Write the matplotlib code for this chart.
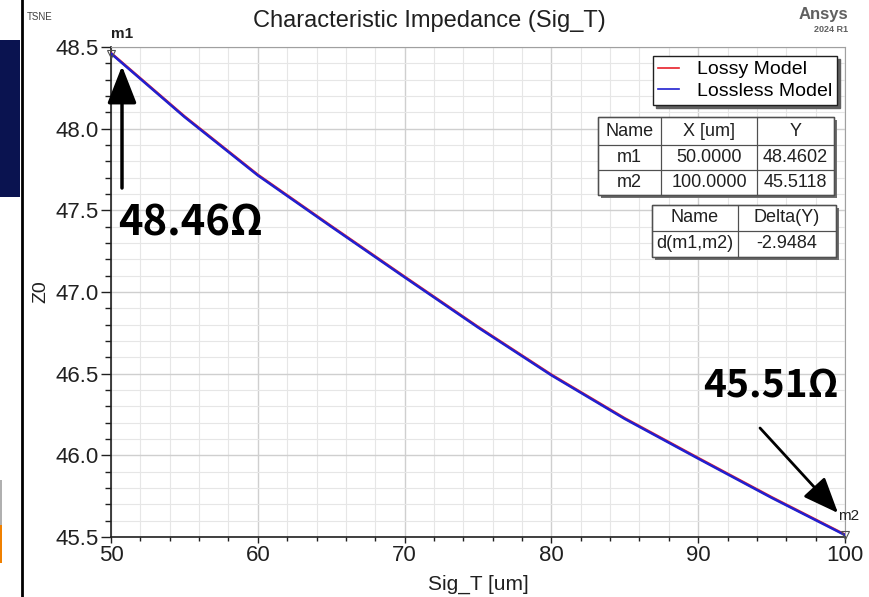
import matplotlib
matplotlib.use("Agg")
import matplotlib.pyplot as plt
from matplotlib.patches import Rectangle
from matplotlib.ticker import MultipleLocator, FormatStrFormatter

plt.rcParams['font.family'] = ['Liberation Sans', 'DejaVu Sans']

# ---- data ----
sig_t = [50, 55, 60, 65, 70, 75, 80, 85, 90, 95, 100]
lossy = [48.4632, 48.076, 47.718, 47.404, 47.094, 46.787, 46.494, 46.227, 45.984, 45.744, 45.5148]
lossless = [48.4602, 48.072, 47.714, 47.400, 47.090, 46.783, 46.490, 46.223, 45.980, 45.740, 45.5118]
series_names = ["Lossy Model", "Lossless Model"]
series_colors = ["#e8202a", "#2020d0"]
markers = ["m1", "m2"]
marker_x = [50.0, 100.0]
marker_y = [48.4602, 45.5118]
delta_name = "d(m1,m2)"
delta_y = -2.9484
annot_text = ["48.46Ω", "45.51Ω"]

W, H = 869, 597
fig = plt.figure(figsize=(W / 100, H / 100), dpi=100)

def fx(px):
    return px / W

def fy(py):
    return 1 - py / H

# slide background pieces
fig.patches.append(Rectangle((0, fy(197)), fx(20), fy(40) - fy(197), transform=fig.transFigure,
                             facecolor="#0a1350", edgecolor="none", zorder=0))
fig.patches.append(Rectangle((0, fy(525)), fx(2), fy(480) - fy(525), transform=fig.transFigure,
                             facecolor="#b0b0b0", edgecolor="none", zorder=0))
fig.patches.append(Rectangle((0, fy(563)), fx(2), fy(525) - fy(563), transform=fig.transFigure,
                             facecolor="#f08000", edgecolor="none", zorder=0))
fig.lines.append(plt.Line2D([fx(21.5), fx(21.5)], [0, 1], transform=fig.transFigure,
                            color="black", lw=2))

ax = fig.add_axes([fx(111), fy(537), fx(845) - fx(111), fy(47) - fy(537)])
ax.set_xlim(50, 100)
ax.set_ylim(45.5, 48.5)
ax.xaxis.set_major_locator(MultipleLocator(10))
ax.xaxis.set_minor_locator(MultipleLocator(2))
ax.yaxis.set_major_locator(MultipleLocator(0.5))
ax.yaxis.set_minor_locator(MultipleLocator(0.1))
ax.yaxis.set_major_formatter(FormatStrFormatter('%.1f'))
ax.grid(which='major', color="#cfcfcf", lw=1.0)
ax.grid(which='minor', color="#e6e6e6", lw=0.8)
ax.set_axisbelow(True)
ax.tick_params(which='major', direction='out', length=7, width=1, labelsize=16, colors="#202020", pad=2)
ax.tick_params(which='minor', direction='out', length=4, width=1, colors="#202020")
ax.tick_params(axis='x', which='major', length=4)
ax.tick_params(axis='x', which='minor', length=3)
for s in ['top', 'right']:
    ax.spines[s].set_color("#a0a0a0")
for s in ['left', 'bottom']:
    ax.spines[s].set_color("#202020")
    ax.spines[s].set_linewidth(1.2)

l1, = ax.plot(sig_t, lossy, color=series_colors[0], lw=1.8, zorder=3)
l2, = ax.plot(sig_t, lossless, color=series_colors[1], lw=1.8, zorder=4)
ax.plot(marker_x, marker_y, linestyle='none', marker='v', markersize=6, markerfacecolor='none',
        markeredgecolor="#505050", markeredgewidth=0.8, zorder=5, clip_on=False)

ax.set_xlabel("Sig_T [um]", fontsize=15, color="#202020", labelpad=6)
ax.set_ylabel("Z0", fontsize=14, color="#202020", labelpad=4)

# marker labels
ax.annotate(markers[0], (marker_x[0], marker_y[0]), xytext=(0, 9), textcoords='offset points',
            fontsize=11, fontweight='bold', color="#202020", ha='left', va='bottom',
            annotation_clip=False)
ax.annotate(markers[1], (marker_x[1], marker_y[1]), xytext=(-5, 9), textcoords='offset points',
            fontsize=11, color="#202020", ha='left', va='bottom', annotation_clip=False)

# title etc
fig.text(fx(429), fy(21), "Characteristic Impedance (Sig_T)", fontsize=17, ha='center', va='center',
         color="#202020")
fig.text(fx(27), fy(17), "TSNE", fontsize=7, ha='left', va='center', color="#404040")
fig.text(fx(848), fy(15), "Ansys", fontsize=12, fontweight='bold', ha='right', va='center', color="#606060")
fig.text(fx(848), fy(29), "2024 R1", fontsize=6.5, fontweight='bold', ha='right', va='center', color="#606060")

# legend
leg = ax.legend([l1, l2], series_names, loc='upper right',
                bbox_to_anchor=((837 - 111) / 734, (537 - 56) / 490),
                fontsize=14, frameon=True, fancybox=False, shadow={'color': '#606060', 'alpha': 1},
                handlelength=1.1, handletextpad=0.9, borderpad=0.25, labelspacing=0.2,
                borderaxespad=0)
leg.get_frame().set_edgecolor("#202020")
leg.get_frame().set_linewidth(1.0)
for h in leg.get_lines():
    h.set_linewidth(1.2)

# tables (drawn in figure pixel coords)
def draw_table(x0, y0, col_w, row_h, rows):
    total_w = sum(col_w)
    total_h = sum(row_h)
    fig.patches.append(Rectangle((fx(x0 + 3), fy(y0 + total_h + 3)), fx(total_w), fy(0) - fy(total_h),
                                 transform=fig.transFigure, facecolor="#707070", edgecolor='none', zorder=6))
    fig.patches.append(Rectangle((fx(x0), fy(y0 + total_h)), fx(total_w), fy(0) - fy(total_h),
                                 transform=fig.transFigure, facecolor="white", edgecolor='#202020',
                                 lw=1.0, zorder=7))
    ry = y0
    for r, row in enumerate(rows):
        cx = x0
        for c, txt in enumerate(row):
            fig.patches.append(Rectangle((fx(cx), fy(ry + row_h[r])), fx(col_w[c]), fy(0) - fy(row_h[r]),
                                         transform=fig.transFigure, facecolor='none',
                                         edgecolor='#505050', lw=0.8, zorder=8))
            fig.text(fx(cx + col_w[c] / 2), fy(ry + row_h[r] / 2), txt, fontsize=13,
                     ha='center', va='center', color="#202020", zorder=9)
            cx += col_w[c]
        ry += row_h[r]

rows1 = [["Name", "X [um]", "Y"]] + [[markers[i], f"{marker_x[i]:.4f}", f"{marker_y[i]:.4f}"] for i in range(2)]
draw_table(598, 117, [63, 96, 77], [28, 25, 25], rows1)
rows2 = [["Name", "Delta(Y)"], [delta_name, f"{delta_y:.4f}"]]
draw_table(652, 205, [86, 98], [26, 26], rows2)

# annotations
afont = ['Noto Sans CJK KR', 'DejaVu Sans']
fig.text(fx(118), fy(224), annot_text[0], fontsize=30, fontweight='bold', family=afont,
         ha='left', va='center', color='black')
fig.text(fx(703), fy(386), annot_text[1], fontsize=28, fontweight='bold', family=afont,
         ha='left', va='center', color='black')
ax.annotate("", xy=(fx(122), fy(66)), xytext=(fx(122), fy(188)), xycoords='figure fraction',
            textcoords='figure fraction',
            arrowprops=dict(arrowstyle='-|>,head_length=2.3,head_width=0.9', color='black', lw=2.5,
                            shrinkA=0, shrinkB=0), annotation_clip=False)
ax.annotate("", xy=(fx(838), fy(513)), xytext=(fx(760), fy(428)), xycoords='figure fraction',
            textcoords='figure fraction',
            arrowprops=dict(arrowstyle='-|>,head_length=2.2,head_width=0.9', color='black', lw=2.0,
                            shrinkA=0, shrinkB=0), annotation_clip=False)

fig.savefig("out.png", dpi=100)
